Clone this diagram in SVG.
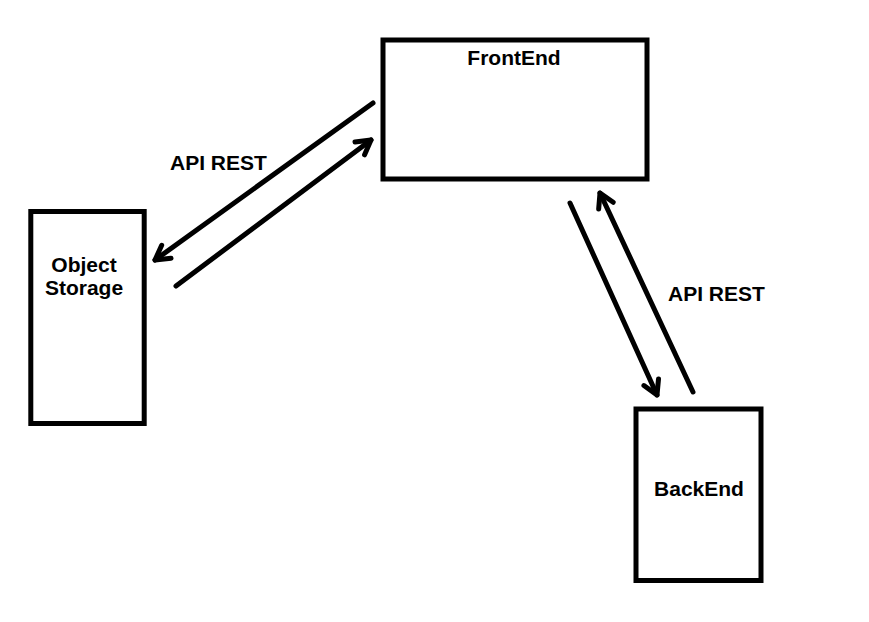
<svg xmlns="http://www.w3.org/2000/svg" width="869" height="622" viewBox="0 0 869 622">
<style>
.box{fill:#fff;stroke:#000;stroke-width:5}
.lbl{font-family:"Liberation Sans",Arial,sans-serif;font-weight:bold;font-size:21px;fill:#000}
.conn{stroke:#000;stroke-width:5;stroke-linecap:round;fill:none;marker-end:url(#head)}
</style>
<defs>
<marker id="head" markerUnits="userSpaceOnUse" viewBox="-20 -12 24 24" refX="0" refY="0" markerWidth="24" markerHeight="24" orient="auto">
<path d="M-14,-8 L0,0 L-14,8" fill="none" stroke="#000" stroke-width="5" stroke-linecap="round" stroke-linejoin="round"/>
</marker>
</defs>
<rect width="869" height="622" fill="#fff"/>
<g id="frontend">
<rect class="box" x="383" y="40" width="264" height="139"/>
<text class="lbl" x="514" y="65" text-anchor="middle">FrontEnd</text>
</g>
<g id="object-storage">
<rect class="box" x="30.8" y="211.5" width="113.4" height="212"/>
<text class="lbl" x="84" y="271.5" text-anchor="middle">Object</text>
<text class="lbl" x="84" y="295" text-anchor="middle">Storage</text>
</g>
<g id="backend">
<rect class="box" x="636" y="409" width="125" height="171.5"/>
<text class="lbl" x="699" y="496" text-anchor="middle">BackEnd</text>
</g>
<g id="connectors">
<line class="conn" x1="373" y1="103" x2="155" y2="260"/>
<line class="conn" x1="176" y1="286" x2="371" y2="140"/>
<line class="conn" x1="570" y1="203" x2="657" y2="395"/>
<line class="conn" x1="693" y1="392" x2="600" y2="193"/>
</g>
<text class="lbl" x="170" y="170">API REST</text>
<text class="lbl" x="668" y="301">API REST</text>
</svg>
